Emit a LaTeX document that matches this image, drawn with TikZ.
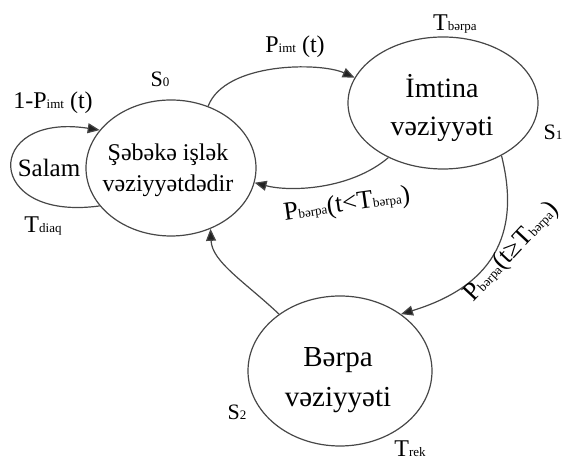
\documentclass[tikz,border=0pt]{standalone}
\usepackage{fontspec}
\setmainfont{Liberation Serif}
\usetikzlibrary{shapes.geometric,arrows.meta}
\definecolor{linegray}{HTML}{474747}
\definecolor{tipgray}{HTML}{222222}
\newcommand\fsz[2]{\fontsize{#1}{#2}\selectfont}
\newcommand\sub[1]{{\fontsize{13}{13}\selectfont #1}}
\begin{document}
\begin{tikzpicture}[x=1pt,y=1pt,
  state/.style={ellipse, draw=linegray, line width=1.2pt, inner sep=0pt},
  conn/.style={draw=linegray, line width=1.2pt, -{Triangle[length=12pt,width=10pt,fill=tipgray]}},
  txt/.style={inner sep=0pt, align=center},
  lbl/.style={inner sep=0pt, font=\fsz{24}{28}},
  ]
\useasboundingbox (0,0) rectangle (563,462);
% states
\node[state, minimum width=170pt, minimum height=136pt] (S0) at (171,294) {};
\node[state, minimum width=190pt, minimum height=132pt] (S1) at (443,359) {};
\node[state, minimum width=184pt, minimum height=150pt] (S2) at (340,91) {};
% state texts
\node[txt, font=\fsz{24}{31}] (S0t) at (168,292) {Şəbəkə işlək\\vəziyyətdədir};
\node[txt, font=\fsz{28}{38}] (S1t) at (442,354) {İmtina\\vəziyyəti};
\node[txt, font=\fsz{29}{40}] (S2t) at (338,82) {Bərpa\\vəziyyəti};
\node[txt, font=\fsz{25}{30}] (salam) at (49,294) {Salam};
% connectors
\draw[conn] (S0.208) .. controls (-17,240) and (-17,350) .. (S0.152);
\draw[conn] (S0.59) .. controls (225,400) and (320,400) .. (S1.164);
\draw[conn] (S1.225) .. controls (350,272) and (290,270) .. (S0.-10);
\draw[conn] (S1.-42) .. controls (522,225) and (490,175) .. (S2.43);
\draw[conn] (S2.137) .. controls (245,180) and (212,200) .. (S0.-57);
% labels
\node[lbl] (l00) at (53,359) {1-P\sub{imt} (t)};
\node[lbl] (l01) at (295,415) {P\sub{imt} (t)};
\node[lbl, font=\fsz{26}{30}, rotate=8] (l10) at (347,257) {P\sub{bərpa}(t<T\sub{bərpa})};
\node[lbl, font=\fsz{26}{30}, rotate=47] (l12) at (512,210) {P\sub{bərpa}(t≥T\sub{bərpa})};
\node[lbl] (tdiaq) at (43,236) {T\sub{diaq}};
\node[lbl, font=\fsz{22}{26}] (s0l) at (160,383) {S\sub{0}};
\node[lbl] (tb) at (455,438) {T\sub{bərpa}};
\node[lbl, font=\fsz{22}{26}] (s1l) at (553,330) {S\sub{1}};
\node[lbl, font=\fsz{22}{26}] (s2l) at (237,50) {S\sub{2}};
\node[lbl] (trek) at (410,13) {T\sub{rek}};
\end{tikzpicture}
\end{document}
